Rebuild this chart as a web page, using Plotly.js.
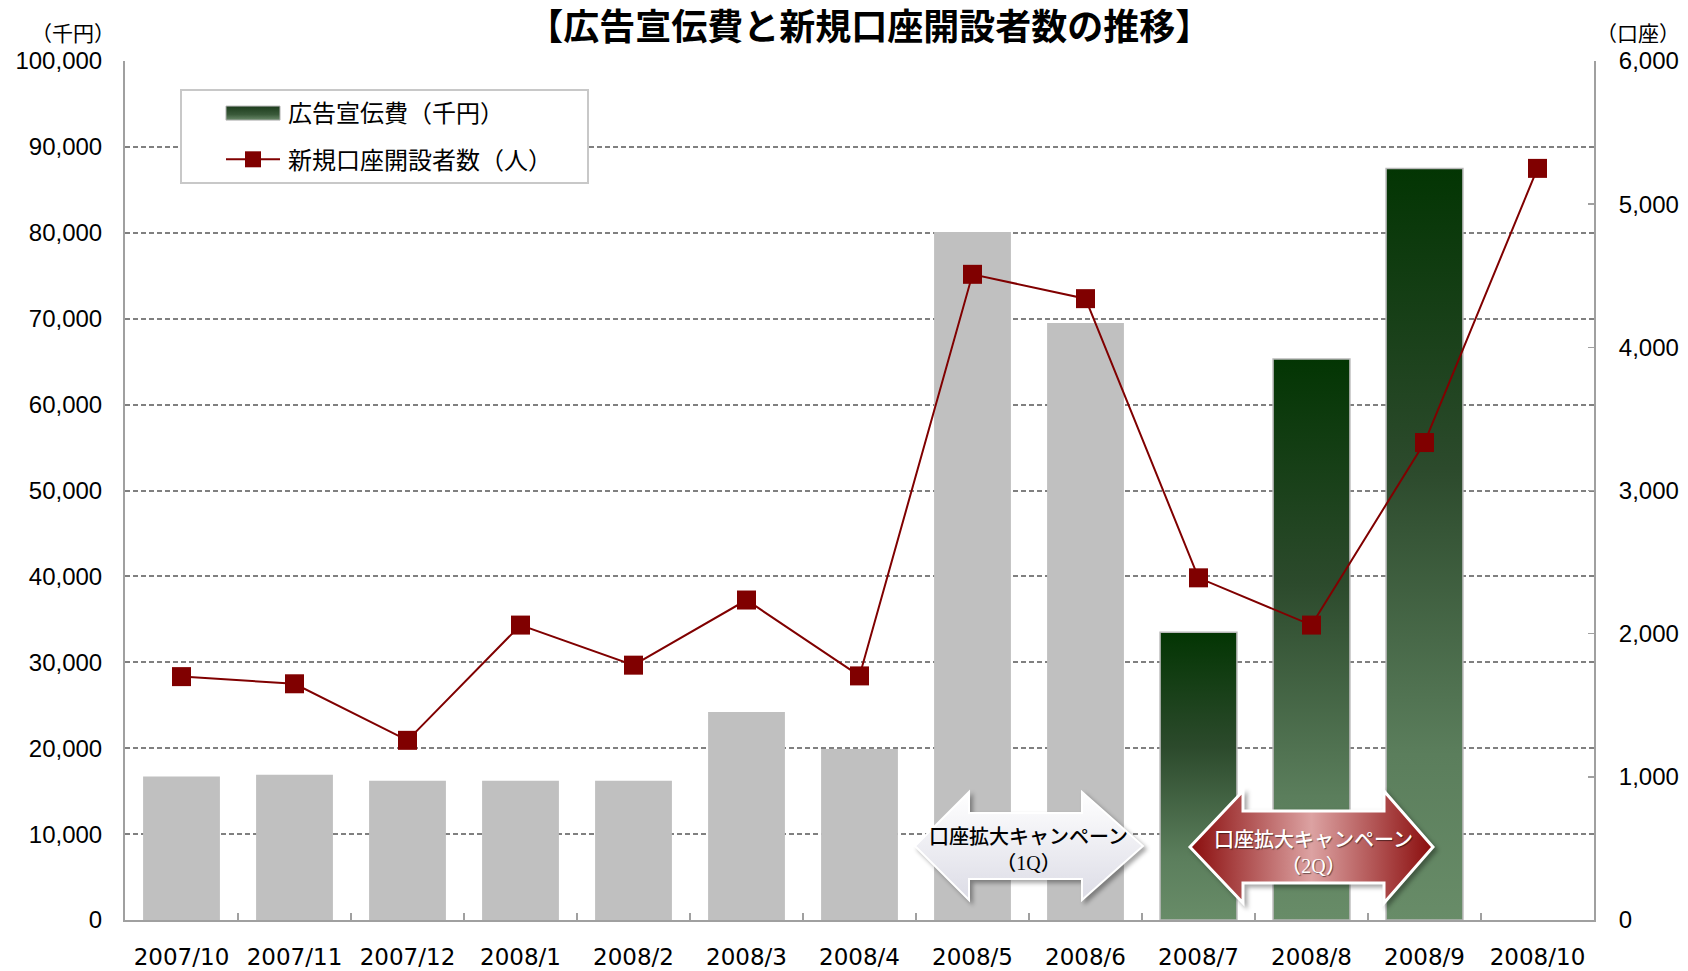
<!DOCTYPE html>
<html><head><meta charset="utf-8">
<script src="https://cdn.plot.ly/plotly-3.0.1.min.js"></script>
<style>html,body{margin:0;padding:0;background:#fff;}#chart{width:1688px;height:971px;}</style>
</head><body>
<svg width="0" height="0" style="position:absolute">
<defs>
<linearGradient id="gGreen" x1="0" y1="0" x2="0" y2="1">
<stop offset="0" stop-color="#033503"/><stop offset="0.4" stop-color="#2c4a2c"/><stop offset="0.78" stop-color="#5b7e5c"/><stop offset="1" stop-color="#688c68"/>
</linearGradient>
<linearGradient id="gGreenLeg" x1="0" y1="0" x2="0" y2="1">
<stop offset="0" stop-color="#1c3c1c"/><stop offset="0.6" stop-color="#3a5a3a"/><stop offset="1" stop-color="#6a8a6a"/>
</linearGradient>
<linearGradient id="gRed" x1="0" y1="0" x2="1" y2="0">
<stop offset="0" stop-color="#8a0c0c"/><stop offset="0.5" stop-color="#dca2a2"/><stop offset="1" stop-color="#8a0c0c"/>
</linearGradient>
<linearGradient id="gWhite" x1="0" y1="0" x2="0" y2="1">
<stop offset="0" stop-color="#ffffff"/><stop offset="1" stop-color="#dcdce6"/>
</linearGradient>
</defs>
</svg>
<div id="chart"></div>
<script>
// ---- data ----
const months = ['2007/10','2007/11','2007/12','2008/1','2008/2','2008/3','2008/4','2008/5','2008/6','2008/7','2008/8','2008/9','2008/10'];
const adCost = [16700,16900,16200,16200,16200,24200,19900,80100,69500,33500,65300,87500,null];
const newAccounts = [1700,1650,1255,2060,1780,2235,1705,4510,4340,2390,2060,3335,5250];
const campaign2Q = [false,false,false,false,false,false,false,false,false,true,true,true,false];
const seriesNames = ['広告宣伝費（千円）','新規口座開設者数（人）'];

// ---- geometry helpers (decoration only) ----
const L=125, T=61, W=1469, H=859;
const px = x => (x-L)/W;
const py = y => (T+H-y)/H;
function dblArrow(xl,xhl,xhr,xr,yc,hh,sh){
  const pts=[[xl,yc],[xhl,yc-hh],[xhl,yc-sh],[xhr,yc-sh],[xhr,yc-hh],[xr,yc],[xhr,yc+hh],[xhr,yc+sh],[xhl,yc+sh],[xhl,yc+hh]];
  return 'M'+pts.map(p=>px(p[0]).toFixed(5)+','+py(p[1]).toFixed(5)).join(' L')+' Z';
}

const grayVals = adCost.map((v,i)=>campaign2Q[i]?null:v);
const greenVals = adCost.map((v,i)=>campaign2Q[i]?v:null);

const traces = [
  {type:'bar', x:months, y:grayVals, name:seriesNames[0], showlegend:false, legendgroup:'g0',
   marker:{color:'#c0c0c0', line:{width:0}}, hoverinfo:'skip'},
  {type:'bar', x:months, y:greenVals, name:seriesNames[0], legendgroup:'g1',
   marker:{color:'#3f5f3f', line:{color:'#b8b8b8', width:1.5}}},
  {type:'scatter', mode:'lines+markers', x:months, y:newAccounts, yaxis:'y2', name:seriesNames[1], legendgroup:'g2',
   line:{color:'#800000', width:2}, marker:{symbol:'square', size:19, color:'#800000', line:{width:0}}}
];

const CJK = 'Noto Sans CJK JP';
const layout = {
  width:1688, height:971,
  margin:{l:L, r:1688-L-W, t:T, b:971-T-H},
  paper_bgcolor:'#fff', plot_bgcolor:'#fff',
  barmode:'overlay', bargap:0.32,
  title:{text:'【広告宣伝費と新規口座開設者数の推移】', x:0.515, xanchor:'center', y:1-27/971, yanchor:'middle',
         font:{family:CJK, size:36, color:'#000', weight:'bold'}},
  xaxis:{type:'category', categoryarray:months, range:[-0.5,12.5], tickson:'boundaries', ticks:'inside', ticklen:7, tickwidth:1.5, tickcolor:'#a0a0a0',
         showline:true, linecolor:'#a0a0a0', linewidth:2, showgrid:false, zeroline:false,
         tickfont:{family:'DejaVu Sans', size:23, color:'#000'}, ticklabelstandoff:15},
  yaxis:{range:[0,100000], dtick:10000, tickformat:',', showgrid:true, gridcolor:'#808080', gridwidth:2, griddash:'5px,3px',
         showline:true, linecolor:'#a0a0a0', linewidth:2, ticks:'', zeroline:false,
         tickfont:{family:'Liberation Sans', size:24, color:'#000'}, ticklabelstandoff:16},
  yaxis2:{overlaying:'y', side:'right', range:[0,6000], dtick:1000, tickformat:',', showgrid:false, zeroline:false,
         showline:true, linecolor:'#a0a0a0', linewidth:2, ticks:'inside', ticklen:6, tickcolor:'#a0a0a0', tickwidth:1.5,
         tickfont:{family:'Liberation Sans', size:24, color:'#000'}, ticklabelstandoff:18},
  legend:{x:px(180), y:py(89), xanchor:'left', yanchor:'top', bgcolor:'#fff', bordercolor:'#c8c8c8', borderwidth:2,
          font:{family:CJK, size:24, color:'#000'}, itemwidth:96, tracegroupgap:12, traceorder:'grouped'},
  shapes:[
    {type:'path', xref:'paper', yref:'paper', layer:'above', path:dblArrow(915,969,1082,1143,846,54,33),
     fillcolor:'#f0f0f4', line:{color:'#ffffff', width:2}},
    {type:'path', xref:'paper', yref:'paper', layer:'above', path:dblArrow(1190,1243,1384,1433,847,56,36),
     fillcolor:'#b05050', line:{color:'#ffffff', width:3}}
  ],
  annotations:[
    {xref:'paper', yref:'paper', x:px(73), y:py(32), xanchor:'center', yanchor:'middle', text:'（千円）', showarrow:false, font:{family:CJK, size:21, color:'#000'}},
    {xref:'paper', yref:'paper', x:px(1638), y:py(32), xanchor:'center', yanchor:'middle', text:'（口座）', showarrow:false, font:{family:CJK, size:21, color:'#000'}},
    {xref:'paper', yref:'paper', x:px(1028), y:py(847), xanchor:'center', yanchor:'middle', showarrow:false,
     text:'口座拡大キャンペーン<br><span style="font-family:Liberation Serif,Noto Sans CJK JP">（1Q）</span>',
     font:{family:CJK, size:20, color:'#000', weight:500}},
    {xref:'paper', yref:'paper', x:px(1313), y:py(850), xanchor:'center', yanchor:'middle', showarrow:false,
     text:'口座拡大キャンペーン<br><span style="font-family:Liberation Serif,Noto Sans CJK JP">（2Q）</span>',
     font:{family:CJK, size:20, color:'#fff', weight:500, shadow:'1px 1px 1px rgba(0,0,0,0.5)'}}
  ]
};

function shiftTo(el, targetX, measureEl){
  if(el.dataset.origT === undefined) el.dataset.origT = el.getAttribute('transform') || '';
  el.setAttribute('transform', el.dataset.origT);
  const r = measureEl.getBoundingClientRect();
  const dx = targetX - (r.left + r.right)/2;
  el.setAttribute('transform', (el.dataset.origT + ' translate(' + dx + ',0)').trim());
}

function decorate(gd){
  const barTraces = gd.querySelectorAll('.barlayer .trace');
  if(barTraces[1]) barTraces[1].querySelectorAll('path').forEach(p=>{p.style.fill='url(#gGreen)';});
  gd.querySelectorAll('.shapelayer path').forEach(p=>{
    const idx = p.getAttribute('data-index');
    if(idx==='0'){p.style.fill='url(#gWhite)'; p.style.filter='drop-shadow(3px 3px 2px rgba(0,0,0,0.35))';}
    if(idx==='1'){p.style.fill='url(#gRed)'; p.style.filter='drop-shadow(3px 3px 2px rgba(0,0,0,0.35))';}
  });
  const bg = gd.querySelector('.legend rect.bg');
  if(!bg) return;
  bg.setAttribute('width', 407);
  const lr = bg.getBoundingClientRect();
  const target = lr.left + 72;
  const items = gd.querySelectorAll('.legend .traces');
  items.forEach((it, k)=>{
    const pts = it.querySelector('.legendpoints');
    const lines = it.querySelector('.legendlines');
    if(k===0){
      const barP = pts ? pts.querySelector('path') : null;
      if(barP){
        barP.setAttribute('d','M-27,7H27V-7H-27Z');
        barP.style.fill='url(#gGreenLeg)'; barP.style.stroke='#b0b0b0'; barP.style.strokeWidth='1px';
        shiftTo(pts, target, barP);
      }
    } else {
      const lp = lines ? lines.querySelector('path') : null;
      if(lp){ lp.setAttribute('d','M-27,0h54'); shiftTo(lines, target, lp); }
      const mp = pts ? pts.querySelector('path') : null;
      if(mp){ shiftTo(pts, target, mp); }
    }
  });
}

Plotly.newPlot('chart', traces, layout, {displayModeBar:false, staticPlot:true}).then(gd=>{
  decorate(gd);
  gd.on('plotly_afterplot', ()=>decorate(gd));
  setTimeout(()=>decorate(gd), 200);
  setTimeout(()=>decorate(gd), 800);
});
</script>
</body></html>
